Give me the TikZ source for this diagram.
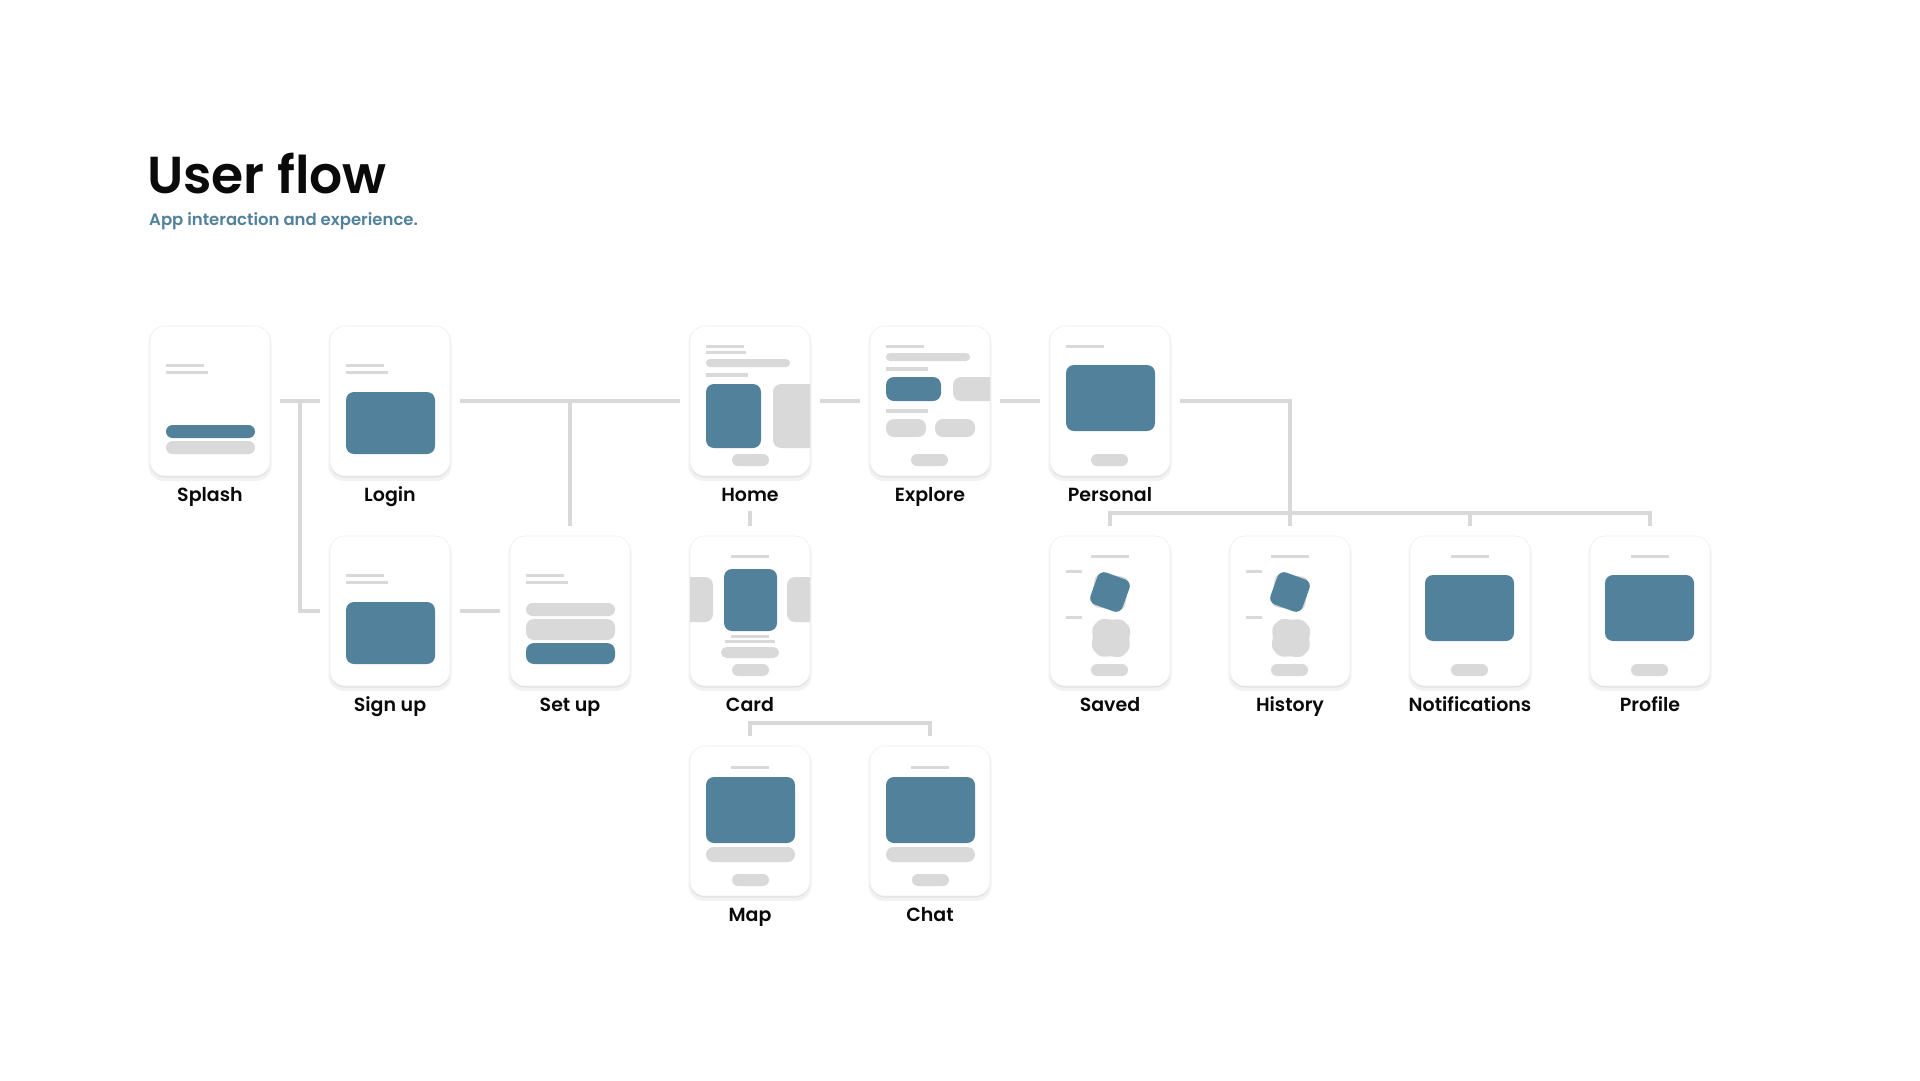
\documentclass[tikz,border=0pt]{standalone}
\usepackage{fontspec}
\setmainfont{Poppins}[UprightFont=* Medium, BoldFont=* SemiBold]
\usetikzlibrary{positioning,calc,shadows}
\definecolor{wfblue}{HTML}{52819B}
\definecolor{wfgray}{HTML}{D9D9D9}
\definecolor{inkblack}{HTML}{0A0A0A}

\begin{document}
\begin{tikzpicture}[
    x=1pt, y=-1pt,
    node distance=60pt,
    card/.style={rectangle, fill=white, draw=black!6, line width=0.6pt, rounded corners=15pt,
        minimum width=120pt, minimum height=150pt, inner sep=0pt, outer sep=0pt,
        general shadow={shadow xshift=0pt, shadow yshift=-3pt, shadow scale=1.025, opacity=0.05, fill=black},
        general shadow={shadow xshift=0pt, shadow yshift=-1.5pt, opacity=0.07, fill=black}},
    lbl/.style={font=\bfseries\fontsize{19}{23}\selectfont, text=inkblack, inner sep=0pt},
    link/.style={draw=wfgray, line width=4pt},
    wfline/.style={draw=wfgray, line width=3pt},
    wfthick/.style={draw=wfgray, line width=4pt},
    gbox/.style={fill=wfgray, rounded corners=#1},
    bbox/.style={fill=wfblue, rounded corners=#1}
]
\useasboundingbox (0,0) rectangle (1920,1080);
\fill[white] (0,0) rectangle (1920,1080);

% heading
\node[anchor=base west, inner sep=0pt, text=inkblack, font=\bfseries\fontsize{52}{60}\selectfont] (title) at (147,193) {User flow};
\node[anchor=base west, inner sep=0pt, text=wfblue, font=\bfseries\fontsize{16.5}{20}\selectfont] (subtitle) at (149,225) {App interaction and experience.};

% screens
\node[card] (splash) at (210,401) {};
\node[card, right=of splash] (login) {};
\node[card, below=of login] (signup) {};
\node[card, right=of signup] (setup) {};
\node[card, right=of setup] (card) {};
\node[card, above=of card] (home) {};
\node[card, right=of home] (explore) {};
\node[card, right=of explore] (personal) {};
\node[card, below=of personal] (saved) {};
\node[card, right=of saved] (history) {};
\node[card, right=of history] (notif) {};
\node[card, right=of notif] (profile) {};
\node[card, below=of card] (map) {};
\node[card, right=of map] (chat) {};

% names
\foreach \n/\t in {splash/Splash, login/Login, signup/Sign up, setup/Set up, home/Home, explore/Explore,
    personal/Personal, card/Card, saved/Saved, history/History, notif/Notifications, profile/Profile, map/Map, chat/Chat}
    \node[lbl, below=25pt of \n.south, anchor=base] (\n txt) {\t};

% connectors
\coordinate (fork1) at ($(splash.east)!0.5!(login.west)$);
\coordinate (fanL) at ([yshift=23pt]saved.north);
\coordinate (fanR) at ([yshift=23pt]profile.north);
\coordinate (forkM) at ([yshift=23pt]map.north);
\coordinate (forkC) at ([yshift=23pt]chat.north);
\draw[link, shorten <=10pt, shorten >=10pt] (splash) -- (login);
\draw[link, shorten >=10pt] (fork1) |- (signup);
\draw[link, shorten <=10pt, shorten >=10pt] (signup) -- (setup);
\draw[link, shorten <=10pt, shorten >=10pt] (login) -- (home);
\draw[link, shorten >=10pt] (setup.north |- login.east) -- (setup);
\draw[link, shorten <=10pt, shorten >=10pt] (home) -- (explore);
\draw[link, shorten <=10pt, shorten >=10pt] (explore) -- (personal);
\draw[link, shorten <=35pt, shorten >=10pt] (home) -- (card);
\draw[link, shorten <=10pt, shorten >=10pt] (personal) -| (history);
\draw[link, shorten <=10pt, shorten >=10pt] (saved) -- (fanL) -- (fanR) -- (profile);
\draw[link, shorten >=10pt] (notif.north |- fanL) -- (notif);
\draw[link, shorten <=10pt, shorten >=10pt] (map) -- (forkM) -- (forkC) -- (chat);

% splash
\begin{scope}[shift={(splash.center)}]
  \draw[wfline] (-44,-36) -- (-6,-36);
  \draw[wfline] (-44,-29) -- (-2,-29);
  \fill[bbox=6.5pt] (-44,24) rectangle (45,37);
  \fill[gbox=6.5pt] (-44,40) rectangle (45,53);
\end{scope}

% login, sign up
\foreach \n in {login, signup} {
  \begin{scope}[shift={(\n.center)}]
    \draw[wfline] (-44,-36) -- (-6,-36);
    \draw[wfline] (-44,-29) -- (-2,-29);
    \fill[bbox=8pt] (-44,-9) rectangle (45,53);
  \end{scope}
}

% set up
\begin{scope}[shift={(setup.center)}]
  \draw[wfline] (-44,-36) -- (-6,-36);
  \draw[wfline] (-44,-29) -- (-2,-29);
  \fill[gbox=6.5pt] (-44,-8) rectangle (45,5);
  \fill[gbox=8pt] (-44,8) rectangle (45,29);
  \fill[bbox=8pt] (-44,32) rectangle (45,53);
\end{scope}

% home
\begin{scope}[shift={(home.center)}]
  \draw[wfline] (-44,-55) -- (-6,-55);
  \draw[wfline] (-44,-49) -- (-4,-49);
  \fill[gbox=4pt] (-44,-42) rectangle (40,-34);
  \draw[wfthick] (-44,-26) -- (-2,-26);
  \fill[bbox=8pt] (-44,-17) rectangle (11,47);
  \begin{scope}
    \clip (-60,-75) rectangle (60,75);
    \fill[gbox=8pt] (23,-17) rectangle (80,47);
  \end{scope}
  \fill[gbox=6pt] (-18,53) rectangle (19,65);
\end{scope}

% explore
\begin{scope}[shift={(explore.center)}]
  \draw[wfline] (-44,-55) -- (-6,-55);
  \fill[gbox=4pt] (-44,-48) rectangle (40,-40);
  \draw[wfthick] (-44,-32) -- (-2,-32);
  \fill[bbox=8pt] (-44,-24) rectangle (11,0);
  \begin{scope}
    \clip (-60,-75) rectangle (60,75);
    \fill[gbox=8pt] (23,-24) rectangle (80,0);
  \end{scope}
  \draw[wfthick] (-44,10) -- (-2,10);
  \fill[gbox=8pt] (-44,18) rectangle (-4,36);
  \fill[gbox=8pt] (5,18) rectangle (45,36);
  \fill[gbox=6pt] (-19,53) rectangle (18,65);
\end{scope}

% personal
\begin{scope}[shift={(personal.center)}]
  \draw[wfline] (-44,-55) -- (-6,-55);
  \fill[bbox=8pt] (-44,-36) rectangle (45,30);
  \fill[gbox=6pt] (-19,53) rectangle (18,65);
\end{scope}

% card
\begin{scope}[shift={(card.center)}]
  \draw[wfline] (-19,-55) -- (19,-55);
  \begin{scope}
    \clip (-60,-75) rectangle (60,75);
    \fill[gbox=8pt] (-80,-34) rectangle (-37,11);
    \fill[gbox=8pt] (37,-34) rectangle (80,11);
  \end{scope}
  \fill[bbox=8pt] (-26,-42) rectangle (27,20);
  \draw[wfline] (-19,25) -- (19,25);
  \draw[wfline] (-25,30) -- (25,30);
  \fill[gbox=5.5pt] (-29,36) rectangle (29,47);
  \fill[gbox=6pt] (-18,53) rectangle (19,65);
\end{scope}

% saved, history
\foreach \n in {saved, history} {
  \begin{scope}[shift={(\n.center)}]
    \draw[wfline] (-19,-55) -- (19,-55);
    \draw[wfline] (-44,-40) -- (-28,-40);
    \draw[wfline] (-44,6) -- (-28,6);
    \fill[gbox=7pt, rotate around={-8:(0,-19)}] (-17,-36) rectangle (17,-2);
    \fill[bbox=7pt, rotate around={-20:(0,-19)}] (-17,-36) rectangle (17,-2);
    \fill[gbox=10pt, rotate around={6:(1,27)}] (-17,9) rectangle (19,45);
    \fill[gbox=10pt, rotate around={-9:(1,27)}] (-17,9) rectangle (19,45);
    \fill[gbox=6pt] (-19,53) rectangle (18,65);
  \end{scope}
}

% notifications, profile
\foreach \n in {notif, profile} {
  \begin{scope}[shift={(\n.center)}]
    \draw[wfline] (-19,-55) -- (19,-55);
    \fill[bbox=8pt] (-45,-36) rectangle (44,30);
    \fill[gbox=6pt] (-19,53) rectangle (18,65);
  \end{scope}
}

% map, chat
\foreach \n in {map, chat} {
  \begin{scope}[shift={(\n.center)}]
    \draw[wfline] (-19,-54) -- (19,-54);
    \fill[bbox=8pt] (-44,-44) rectangle (45,22);
    \fill[gbox=7.5pt] (-44,26) rectangle (45,41);
    \fill[gbox=6pt] (-18,53) rectangle (19,65);
  \end{scope}
}
\end{tikzpicture}
\end{document}
